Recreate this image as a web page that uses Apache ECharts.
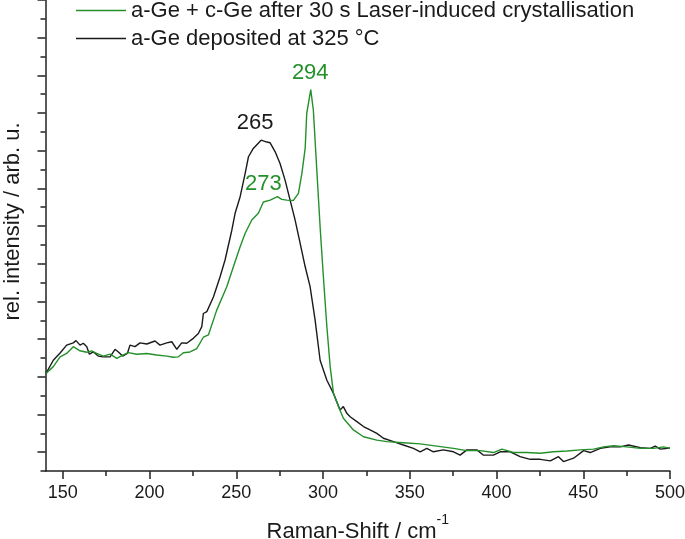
<!DOCTYPE html>
<html><head><meta charset="utf-8">
<script src="https://cdn.jsdelivr.net/npm/echarts@6/dist/echarts.min.js"></script>
<style>html,body{margin:0;padding:0;background:#fff}#c{width:685px;height:539px}</style>
</head><body><div id="c"></div>
<script>
const seriesNames = ['a-Ge + c-Ge after 30 s Laser-induced crystallisation', 'a-Ge deposited at 325 °C'];
const shiftBlack = [140.3,144.5,148.4,152.2,156.0,157.6,159.9,161.8,163.8,165.3,167.6,170.4,173.3,177.2,180.1,182.0,184.5,187.2,188.7,191.6,194.5,198.4,203.1,206.0,209.9,212.8,215.7,218.5,221.4,225.2,228.1,230.1,231.0,233.0,236.8,240.6,243.5,247.4,249.3,252.2,255.1,257.0,259.8,264.3,267.6,269.5,272.4,275.2,278.1,281.0,283.9,286.8,289.7,292.5,295.4,298.3,302.2,306.0,309.8,311.7,313.7,315.6,319.5,323.3,327.1,331.0,334.8,340.6,346.3,352.1,356.0,359.8,363.6,369.4,375.2,379.0,382.9,388.7,392.5,398.2,402.1,407.9,413.6,419.4,425.2,431.0,435.7,438.6,444.4,450.2,454.0,459.8,465.5,471.3,476.1,482.9,488.6,491.5,494.4,500.0];
const intBlack = [2.59,2.94,3.13,3.34,3.40,3.46,3.34,3.39,3.30,3.10,3.16,3.05,3.03,3.03,3.23,3.16,3.05,3.12,3.34,3.30,3.40,3.37,3.45,3.34,3.40,3.43,3.23,3.40,3.39,3.52,3.65,3.83,4.18,4.23,4.62,5.15,5.60,6.39,6.84,7.28,7.90,8.34,8.56,8.78,8.73,8.71,8.47,8.16,7.72,7.19,6.66,6.04,5.42,4.90,4.01,2.94,2.41,2.06,1.62,1.71,1.53,1.44,1.31,1.18,1.09,1.00,0.87,0.78,0.69,0.60,0.51,0.60,0.51,0.56,0.51,0.42,0.56,0.56,0.42,0.42,0.51,0.51,0.38,0.31,0.31,0.27,0.38,0.25,0.34,0.54,0.49,0.60,0.64,0.64,0.69,0.62,0.60,0.66,0.58,0.61];
const shiftGreen = [140.3,144.5,148.4,152.2,156.0,159.9,163.8,166.6,169.5,173.3,177.2,181.1,184.9,187.8,192.6,198.4,204.1,209.9,213.7,216.6,219.5,223.3,227.2,231.0,233.9,238.7,244.5,248.3,252.2,255.1,258.9,262.7,265.6,269.5,273.7,276.2,279.1,282.9,285.8,287.8,289.7,290.6,292.9,294.4,296.4,298.3,300.2,302.2,304.1,306.0,308.9,311.7,317.5,323.3,331.0,336.8,346.3,356.0,365.6,375.2,382.9,390.6,398.2,403.1,409.8,417.5,425.2,432.9,440.6,448.2,455.9,461.7,467.5,475.2,482.9,490.5,496.3,500.0];
const intGreen = [2.59,2.77,3.03,3.12,3.30,3.19,3.15,3.19,3.12,3.05,3.10,2.99,3.08,3.14,3.10,3.12,3.08,3.05,3.02,3.03,3.14,3.16,3.25,3.55,3.61,4.27,4.89,5.42,5.95,6.31,6.66,6.84,7.14,7.19,7.28,7.21,7.19,7.18,7.37,7.90,8.57,9.49,10.12,9.58,7.98,6.48,5.15,3.83,2.77,2.06,1.71,1.40,1.09,0.91,0.82,0.78,0.75,0.72,0.66,0.60,0.54,0.54,0.49,0.58,0.49,0.49,0.47,0.51,0.53,0.56,0.58,0.64,0.67,0.64,0.60,0.60,0.64,0.60];
const peakLabels = ['265', '294', '273'];
const peakAt = [[264.3, 8.78], [292.9, 10.12], [273.7, 7.28]];
const xRange = [140, 500];
const xTickRange = [150, 500];
const yRange = [0, 12.5];
const yTickRange = [0, 12];

const GREEN = '#24902a', BLACK = '#1a1a1a', AX = '#222';
const FF = '"Liberation Sans", Arial, sans-serif';
const zip = (a, b) => a.map((v, i) => [v, b[i]]);
const tickStyle = {color: AX, width: 1.5};

const chart = echarts.init(document.getElementById('c'), null, {renderer: 'canvas'});
chart.setOption({
  animation: false,
  backgroundColor: '#fff',
  textStyle: {fontFamily: FF},
  grid: [
    {left: 45.5, right: 15, top: 0, bottom: 68, containLabel: false, outerBoundsMode: 'none'},
    {left: 45.5 + (xTickRange[0] - xRange[0]) * 1.734, right: 15, top: 0, bottom: 68, containLabel: false, outerBoundsMode: 'none'},
    {left: 45.5, right: 15, top: 0, bottom: 68 + 0.5 * 37.68, containLabel: false, outerBoundsMode: 'none'}
  ],
  legend: {
    orient: 'vertical', left: 76, top: -1, padding: 0, itemWidth: 50, itemHeight: 1.6, itemGap: 5,
    icon: 'rect',
    data: [seriesNames[0], seriesNames[1]],
    textStyle: {fontSize: 22, color: BLACK, fontFamily: FF, lineHeight: 23}
  },
  xAxis: [
    {gridIndex: 0, type: 'value', min: xRange[0], max: xRange[1],
     axisLine: {onZero: false, lineStyle: tickStyle}, axisTick: {show: false}, axisLabel: {show: false}, splitLine: {show: false},
     name: '{main|Raman-Shift / cm}{sup|-1}', nameLocation: 'middle', nameGap: 42,
     nameTextStyle: {fontSize: 22, color: BLACK, fontFamily: FF,
       rich: {main: {fontSize: 22, color: BLACK, fontFamily: FF, lineHeight: 30, verticalAlign: 'bottom'},
              sup: {fontSize: 14, color: BLACK, fontFamily: FF, lineHeight: 14, verticalAlign: 'top'}}}},
    {gridIndex: 1, type: 'value', min: xTickRange[0], max: xTickRange[1], interval: 50,
     axisLine: {show: false, onZero: false}, axisTick: {show: true, length: 8, lineStyle: tickStyle},
     minorTick: {show: true, splitNumber: 2, length: 5, lineStyle: tickStyle},
     axisLabel: {fontSize: 18, color: BLACK, margin: 13, fontFamily: FF}, splitLine: {show: false}, minorSplitLine: {show: false}},
    {gridIndex: 2, type: 'value', min: 0, max: 1, show: false}
  ],
  yAxis: [
    {gridIndex: 0, type: 'value', min: yRange[0], max: yRange[1], interval: 12.5,
     axisLine: {show: true, onZero: false, lineStyle: tickStyle}, axisTick: {show: true, length: 5, lineStyle: tickStyle},
     axisLabel: {show: false}, splitLine: {show: false},
     name: 'rel. intensity / arb. u.', nameLocation: 'middle', nameRotate: 90, nameGap: 22,
     nameTextStyle: {fontSize: 22, color: BLACK, fontFamily: FF, padding: [0, 0, 0, 28]}},
    {gridIndex: 1, type: 'value', min: 0, max: 1, show: false},
    {gridIndex: 2, type: 'value', min: yTickRange[0], max: yTickRange[1], interval: 1,
     axisLine: {show: false, onZero: false}, axisTick: {show: true, length: 8, lineStyle: tickStyle},
     minorTick: {show: true, splitNumber: 2, length: 5, lineStyle: tickStyle},
     axisLabel: {show: false}, splitLine: {show: false}, minorSplitLine: {show: false}}
  ],
  series: [
    {name: seriesNames[1], type: 'line', xAxisIndex: 0, yAxisIndex: 0, data: zip(shiftBlack, intBlack),
     symbol: 'none', color: BLACK, lineStyle: {color: BLACK, width: 1.4},
     markPoint: {symbol: 'circle', symbolSize: 0, silent: true,
       label: {show: true, fontSize: 22, color: BLACK, fontFamily: FF, formatter: p => p.name},
       data: [{name: peakLabels[0], coord: peakAt[0], label: {offset: [-6, -17.5]}}]}},
    {name: seriesNames[0], type: 'line', xAxisIndex: 0, yAxisIndex: 0, data: zip(shiftGreen, intGreen),
     symbol: 'none', color: GREEN, lineStyle: {color: GREEN, width: 1.4},
     markPoint: {symbol: 'circle', symbolSize: 0, silent: true,
       label: {show: true, fontSize: 22, color: GREEN, fontFamily: FF, formatter: p => p.name},
       data: [{name: peakLabels[1], coord: peakAt[1], label: {offset: [-0.5, -17]}},
              {name: peakLabels[2], coord: peakAt[2], label: {offset: [-14, -13]}}]}}
  ]
});
</script></body></html>
